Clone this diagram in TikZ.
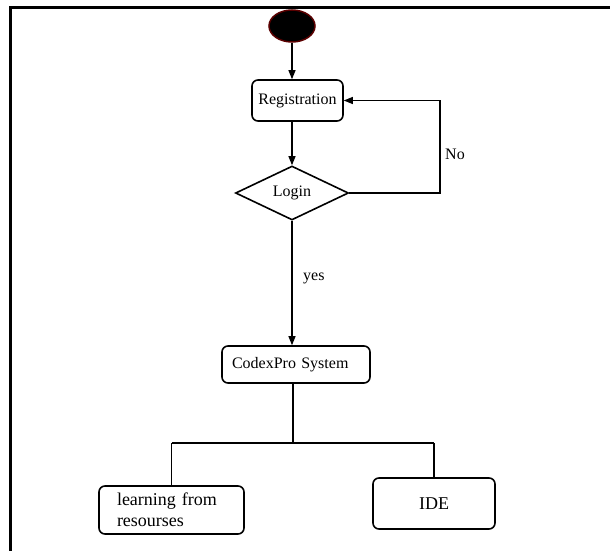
\documentclass[tikz,border=0pt]{standalone}
\usepackage{fontspec}
\setmainfont{Liberation Serif}
\usetikzlibrary{shapes.geometric,arrows.meta}
\definecolor{startrim}{RGB}{90,0,0}
\begin{document}
\begin{tikzpicture}[x=1pt,y=-1pt,
  every node/.style={font=\fontsize{16}{20}\selectfont},
  stepbox/.style={draw, line width=1.6pt, rounded corners=6pt, inner sep=0pt, align=center},
  leafbox/.style={stepbox, font=\fontsize{18}{21}\selectfont},
  decision/.style={draw, shape=diamond, line width=1.6pt, inner sep=0pt, minimum width=113pt, minimum height=54pt},
  conn/.style={line width=1.2pt},
  arr/.style={conn, -{Triangle[length=9pt,width=7pt]}},
  lbl/.style={anchor=west, inner sep=0pt}
]
\useasboundingbox (0,0) rectangle (610,551);
% frame
\draw[line width=3pt] (10,551) -- (10,7.5) -- (610,7.5);
% start
\node[draw=startrim, fill=black, line width=1.5pt, ellipse, minimum width=46pt, minimum height=32pt, inner sep=0pt] (start) at (292,26) {};
% registration
\node[stepbox, minimum width=91pt, minimum height=41pt] (reg) at (297.5,100.5) {Registration};
% login
\node[decision] (login) at (292,193) {Login};
% codexpro
\node[stepbox, minimum height=37pt, text width=128pt, inner xsep=10pt, align=left] (codex) at (296,364.5) {CodexPro System};
% leaves
\node[leafbox, minimum height=48pt, text width=109pt, inner xsep=18pt, align=left] (learn) at (171.5,510) {learning from\\resourses};
\node[leafbox, minimum width=122pt, minimum height=51pt] (ide) at (434,503.5) {IDE};
% coordinates
\coordinate (nofb) at (440,100.5);
\coordinate (bj) at (293,443);
\coordinate (busl) at (171.5,443);
\coordinate (busr) at (434,443);
% connectors
\draw[arr] (start.south) -- (start.south |- reg.north);
\draw[arr] (login.north |- reg.south) -- (login.north);
\draw[arr] (login.east) -| (nofb) -- (reg.east);
\draw[arr] (login.south) -- (login.south |- codex.north);
\draw[conn] (bj |- codex.south) -- (bj);
\draw[conn] (busl) -- (busr);
\draw[conn] (busl) -- (learn.north);
\draw[conn] (busr) -- (ide.north);
% labels
\node[lbl] (no) at (445,154) {No};
\node[lbl] (yes) at (303,278) {yes};
\end{tikzpicture}
\end{document}
